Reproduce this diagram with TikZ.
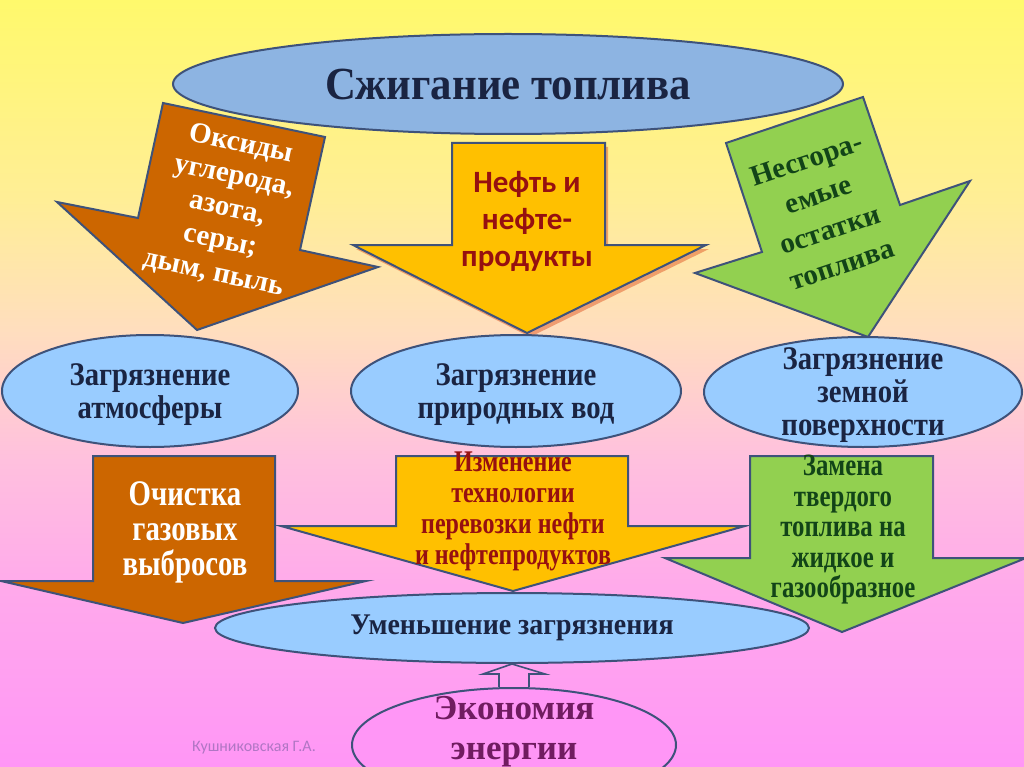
\documentclass[tikz,border=0pt]{standalone}
\usepackage{fontspec}
\setmainfont{Liberation Serif}
\newfontfamily\narrowserif[FakeStretch=0.8]{Liberation Serif}
\newfontfamily\ovalserif[FakeStretch=0.87]{Liberation Serif}
\newfontfamily\titleserif[FakeStretch=0.93]{Liberation Serif}
\newfontfamily\calibrisans{Carlito}
\usetikzlibrary{shapes.geometric}
\usetikzlibrary{calc}
\usetikzlibrary{positioning}

\definecolor{bgyellow}{RGB}{255,249,108}
\definecolor{bgcream}{RGB}{255,238,150}
\definecolor{bgpeach}{RGB}{255,222,190}
\definecolor{bgblush}{RGB}{255,192,222}
\definecolor{bgrose}{RGB}{255,168,236}
\definecolor{bgpink}{RGB}{255,150,246}
\definecolor{edgeblue}{RGB}{62,82,122}
\definecolor{titleblue}{RGB}{141,180,226}
\definecolor{ovalblue}{RGB}{153,204,255}
\definecolor{arrowbrown}{RGB}{204,102,0}
\definecolor{arrowgold}{RGB}{255,192,0}
\definecolor{arrowgreen}{RGB}{146,208,80}
\definecolor{glowred}{RGB}{225,90,40}
\definecolor{navytext}{RGB}{26,36,66}
\definecolor{oilred}{RGB}{150,16,16}
\definecolor{leaftext}{RGB}{18,68,24}
\definecolor{econpink}{RGB}{255,150,246}
\definecolor{plumtext}{RGB}{112,28,96}
\definecolor{marktext}{RGB}{176,118,196}

\pgfdeclareverticalshading{slidebg}{100bp}{color(0bp)=(bgpink); color(25bp)=(bgpink); color(36bp)=(bgrose); color(45bp)=(bgblush); color(53.5bp)=(bgpeach); color(62bp)=(bgcream); color(75bp)=(bgyellow); color(100bp)=(bgyellow)}

\begin{document}
\begin{tikzpicture}[x=1pt,y=-1pt,
  outline/.style={draw=edgeblue, line width=2pt, line join=miter},
  oval/.style={ellipse, outline, fill=ovalblue, inner sep=0pt},
  ovaltext/.style={align=center, text=navytext, font=\ovalserif\bfseries\fontsize{33}{33}\selectfont},
  arrowtext/.style={align=center, font=\bfseries\fontsize{29}{33}\selectfont}]
\useasboundingbox (0,0) rectangle (1024,767);
\shade[shading=slidebg] (0,0) rectangle (1024,767);

% top
\node[ellipse, outline, fill=titleblue, minimum width=670, minimum height=100, inner sep=0pt, text=navytext, font=\titleserif\bfseries\fontsize{46}{46}\selectfont] (title) at (508,84) {Сжигание топлива};

% upper arrows
\draw[outline, fill=arrowbrown] (163,103) -- (325,137) -- (300,250) -- (378,267) -- (197,330) -- (57,202) -- (138,218) -- cycle;
\fill[glowred, opacity=0.5, xshift=3pt, yshift=-4pt] (452,143) -- (605,143) -- (605,245) -- (706,245) -- (527,333) -- (353,245) -- (452,245) -- cycle;
\draw[outline, fill=arrowgold] (452,143) -- (605,143) -- (605,245) -- (706,245) -- (527,333) -- (353,245) -- (452,245) -- cycle;
\draw[outline, fill=arrowgreen] (726,143) -- (863,97) -- (900,205) -- (970,181) -- (868,337) -- (695,273) -- (762,252) -- cycle;

\node[arrowtext, rotate=-12, text=white] (oxides) at (227,209) {Оксиды\\углерода,\\азота,\\серы;\\дым, пыль};
\node[align=center, text=oilred, font=\calibrisans\bfseries\fontsize{31}{37}\selectfont] (oil) at (527,221) {Нефть и\\нефте-\\продукты};
\node[arrowtext, rotate=18.5, text=leaftext, font=\bfseries\fontsize{29}{37}\selectfont] (ash) at (824,212) {Несгора-\\емые\\остатки\\топлива};

% pollution
\node[oval, minimum width=296, minimum height=112] (atmo) at (150,391) {};
\node[oval, minimum width=330, minimum height=112] (water) at (516,391) {};
\node[oval, minimum width=318, minimum height=110] (soil) at (863,392) {};
\node[ovaltext] (atmotext) at ($(atmo)+(0,4)$) {Загрязнение\\атмосферы};
\node[ovaltext] (watertext) at ($(water)+(0,4)$) {Загрязнение\\природных вод};
\node[ovaltext] (soiltext) at ($(soil)+(0,3)$) {Загрязнение\\земной\\поверхности};

% lower arrows
\draw[outline, fill=arrowbrown] (93,456) -- (275,456) -- (275,581) -- (366,581) -- (183,623) -- (1,581) -- (93,581) -- cycle;
\draw[outline, fill=arrowgold] (396,456) -- (628,456) -- (628,526) -- (745,526) -- (513,591) -- (281,526) -- (396,526) -- cycle;
\draw[outline, fill=arrowgreen] (750,456) -- (933,456) -- (933,558) -- (1026,558) -- (842,632) -- (665,558) -- (750,558) -- cycle;

\node[align=center, text=white, font=\narrowserif\bfseries\fontsize{36}{35}\selectfont] (clean) at (185,532) {Очистка\\газовых\\выбросов};
\node[align=center, text=oilred, font=\narrowserif\bfseries\fontsize{30}{31}\selectfont] (transport) at (513,511) {Изменение\\технологии\\перевозки нефти\\и нефтепродуктов};
\node[align=center, text=leaftext, font=\narrowserif\bfseries\fontsize{31}{30.5}\selectfont] (fuel) at (843,530) {Замена\\твердого\\топлива на\\жидкое и\\газообразное};

% result
\node[oval, minimum width=594, minimum height=70, align=center, text=navytext, font=\titleserif\bfseries\fontsize{30}{30}\selectfont] (less) at (512,628) {Уменьшение загрязнения};
\node[ellipse, outline, fill=econpink, minimum width=324, minimum height=114, inner sep=0pt] (econ) at (514,745) {};
\node[align=center, text=plumtext, font=\bfseries\fontsize{35}{40}\selectfont] (econtext) at (514,732) {Экономия\\энергии};

% hollow arrow up
\draw[outline, line width=1.6pt] ($(econ.north)+(-15,0)$) -- ++(0,-13) -- ++(-16,0) -- (less.south) -- ($(econ.north)+(31,-13)$) -- ++(-16,0) -- ++(0,13);

\node[text=marktext, font=\calibrisans\fontsize{16}{16}\selectfont] (mark) at (254,748) {Кушниковская Г.А.};
\end{tikzpicture}
\end{document}
